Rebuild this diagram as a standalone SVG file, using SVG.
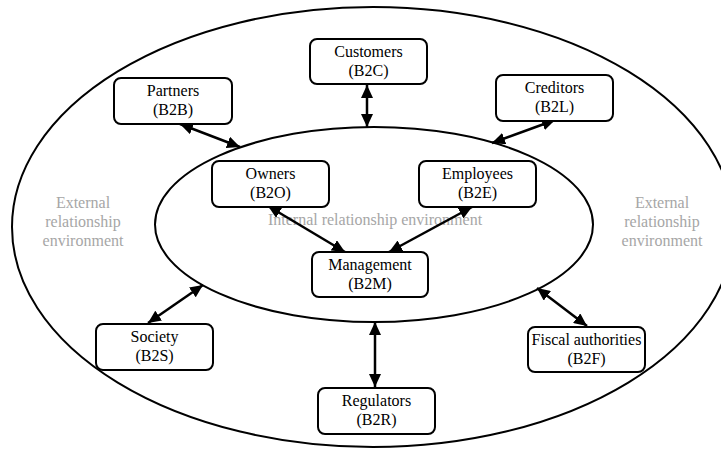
<svg xmlns="http://www.w3.org/2000/svg" width="721" height="450" viewBox="0 0 721 450">
<style>
.env{fill:none;stroke:#000;stroke-width:2}
.box{fill:#fff;stroke:#000;stroke-width:2}
text{font-family:'Liberation Serif','Times New Roman','DejaVu Serif',serif;font-size:16px;text-anchor:middle}
.lbl{fill:#000}
.gray{fill:#a6a6a6}
.con{stroke:#000;stroke-width:2.5;fill:none;marker-start:url(#ah);marker-end:url(#ah)}
</style>
<defs>
<marker id="ah" markerUnits="userSpaceOnUse" markerWidth="14" markerHeight="12" refX="13" refY="6" orient="auto-start-reverse">
<path d="M0,0 L13,6 L0,12 Z" fill="#000"/>
</marker>
</defs>
<rect width="721" height="450" fill="#fff"/>
<g id="outer-environment" font-family="Liberation Serif, serif">
<ellipse class="env" cx="373" cy="227" rx="361" ry="220"/>
<text class="gray" x="83" y="208">External</text>
<text class="gray" x="83" y="227">relationship</text>
<text class="gray" x="83" y="246">environment</text>
<text class="gray" x="662" y="208">External</text>
<text class="gray" x="662" y="227">relationship</text>
<text class="gray" x="662" y="246">environment</text>
</g>
<g id="inner-environment">
<ellipse class="env" cx="374" cy="224.5" rx="219" ry="97.5"/>
<text class="gray" x="375" y="225">Internal relationship environment</text>
</g>
<g id="connectors">
<line class="con" x1="367" y1="85" x2="367" y2="127"/>
<line class="con" x1="180" y1="124" x2="240" y2="147"/>
<line class="con" x1="555" y1="120" x2="492" y2="143"/>
<line class="con" x1="268" y1="206" x2="345" y2="252"/>
<line class="con" x1="472" y1="207" x2="389" y2="252"/>
<line class="con" x1="148" y1="323" x2="203" y2="285"/>
<line class="con" x1="375" y1="322" x2="375" y2="387"/>
<line class="con" x1="587" y1="326" x2="537" y2="288"/>
</g>
<g id="customers">
<rect class="box" x="310" y="39" width="117" height="45" rx="7"/>
<text class="lbl" x="368.5" y="57">Customers</text>
<text class="lbl" x="368.5" y="75.5">(B2C)</text>
</g>
<g id="partners">
<rect class="box" x="114" y="78" width="118" height="46" rx="7"/>
<text class="lbl" x="173" y="96">Partners</text>
<text class="lbl" x="173" y="114.5">(B2B)</text>
</g>
<g id="creditors">
<rect class="box" x="496" y="75" width="117" height="46" rx="7"/>
<text class="lbl" x="554.5" y="93">Creditors</text>
<text class="lbl" x="554.5" y="111.5">(B2L)</text>
</g>
<g id="owners">
<rect class="box" x="212" y="161" width="117" height="46" rx="7"/>
<text class="lbl" x="270.5" y="179">Owners</text>
<text class="lbl" x="270.5" y="197.5">(B2O)</text>
</g>
<g id="employees">
<rect class="box" x="419" y="161" width="117" height="46" rx="7"/>
<text class="lbl" x="477.5" y="179">Employees</text>
<text class="lbl" x="477.5" y="197.5">(B2E)</text>
</g>
<g id="management">
<rect class="box" x="312" y="252" width="116" height="45" rx="7"/>
<text class="lbl" x="370" y="270">Management</text>
<text class="lbl" x="370" y="288.5">(B2M)</text>
</g>
<g id="society">
<rect class="box" x="96" y="324" width="117" height="46" rx="7"/>
<text class="lbl" x="154.5" y="342">Society</text>
<text class="lbl" x="154.5" y="360.5">(B2S)</text>
</g>
<g id="regulators">
<rect class="box" x="318" y="388" width="117" height="46" rx="7"/>
<text class="lbl" x="376.5" y="406">Regulators</text>
<text class="lbl" x="376.5" y="424.5">(B2R)</text>
</g>
<g id="fiscal-authorities">
<rect class="box" x="528" y="327" width="117" height="45" rx="7"/>
<text class="lbl" x="586.5" y="345">Fiscal authorities</text>
<text class="lbl" x="586.5" y="363.5">(B2F)</text>
</g>
</svg>
